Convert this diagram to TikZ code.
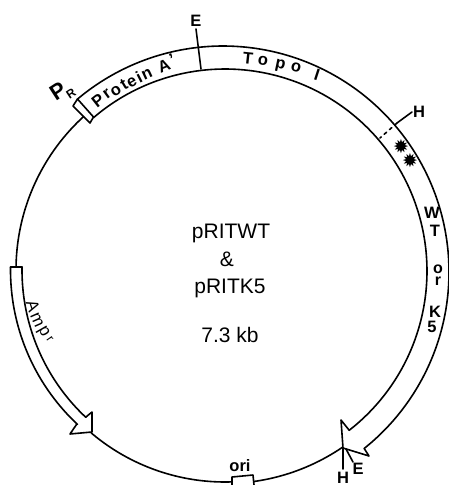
\documentclass[tikz,border=0pt]{standalone}
\usepackage{fontspec}
\setmainfont{Liberation Sans}
\newfontfamily\symfont{DejaVu Sans}
\tikzset{
  ln/.style={draw=black,line width=1.6pt,line cap=round,line join=round},
  lab/.style={inner sep=0pt,font=\fontsize{16.5}{16.5}\selectfont\bfseries},
  lett/.style={inner sep=0pt,font=\fontsize{16.5}{16.5}\selectfont\bfseries},
  amp/.style={inner sep=0pt,font=\fontsize{17}{17}\selectfont},
  mid/.style={inner sep=0pt,font=\fontsize{21}{21}\selectfont},
  star/.style={inner sep=0pt,font=\symfont\fontsize{19}{19}\selectfont}
}
\newcommand{\polarc}[5]{\draw[ln] plot[domain=#4:#5,samples=80,smooth] ({#1+#3*cos(\x)},{#2+#3*sin(\x)});}
\begin{document}
\begin{tikzpicture}[x=1pt,y=-1pt]
\useasboundingbox (0,0) rectangle (449,485);
\fill[white] (0,0) rectangle (449,485);
% backbone
\polarc{224}{270}{208}{180.8}{227.5}
\polarc{225}{275}{207}{88}{130.3}
\polarc{225}{275}{208.5}{55.7}{82}
% ori box
\draw[ln] (232,485) -- (232,477) -- (253,475) -- (254,485);
% PR box
\draw[ln] (77.5,99) -- (73,106) -- (90,123) -- (93.5,117) -- cycle;
% top band
\polarc{223}{272}{226}{229.9}{411.3}
\polarc{225}{271}{202}{229.4}{412.1}
% arrowhead
\coordinate (ahO) at (364.2,448.5);
\coordinate (ahV) at (343,448);
\coordinate (ahI) at (349,430);
\draw[ln] (ahO) -- (369,456) -- (ahV) -- (341,420) -- (ahI);
% E and H ticks at bottom
\draw[ln] (ahV) -- (343,469);
\draw[ln] (346,449) -- (353,462);
% top E tick
\draw[ln] (196,29) -- (201,69);
% H tick
\draw[ln] (397,123) -- (412,112);
\draw[ln,dash pattern=on 3pt off 4pt] (397,123) -- (380,138);
% Amp band
\draw[ln] (10.5,267) -- (22,267);
\polarc{222}{270}{211.5}{133.1}{180.8}
\polarc{224}{270}{202}{133.2}{180.9}
\draw[ln] (76.5,424.5) -- (70,434) -- (92,432) -- (92,412) -- (85.7,417.2);
% labels
\node[lab] (e1) at (196,21) {E};
\node[lab] (h1) at (419,112) {H};
\node[lab] (e2) at (358,469) {E};
\node[lab] (h2) at (343,477.5) {H};
\node[lab] (ori) at (240,466) {ori};
\node[lab] (wt1) at (432,213) {W};
\node[lab] (wt2) at (435,231) {T};
\node[lab,align=center,font=\fontsize{16}{12}\selectfont\bfseries] (or) at (438,275) {o\\r};
\node[lab] (k5a) at (435,312) {K};
\node[lab] (k5b) at (432,327) {5};
\node[inner sep=0pt,rotate=33,font=\fontsize{22}{22}\selectfont\bfseries] (pr) at (58,91) {P};
\node[inner sep=0pt,rotate=33,font=\fontsize{12}{12}\selectfont\bfseries] (prb) at (71,94) {R};
\foreach \c/\x/\y/\r [count=\i] in {P/98/101/38,r/107/94/36,o/116/91/33,t/124/85/31,e/132/82/29,i/139/77/27,n/147/74/25,A/164/66/22,'/172/59/20}
  \node[lett,rotate=\r] (pa\i) at (\x,\y) {\c};
\foreach \c/\x/\y/\r [count=\i] in {T/248/58/-6,o/263/61/-8,p/280/66/-12,o/296/67/-14,I/317/75/-18}
  \node[lett,rotate=\r] (tp\i) at (\x,\y) {\c};
\foreach \c/\x/\y/\r [count=\i] in {A/33/306/-72,m/37/320/-66,p/43/332/-60}
  \node[amp,rotate=\r] (am\i) at (\x,\y) {\c};
\node[inner sep=0pt,rotate=-55,font=\fontsize{12}{12}\selectfont] (am4) at (50,339) {r};
\node[star] (s1) at (401,147) {✹};
\node[star] (s2) at (410,161) {✹};
\node[mid] (m1) at (231,233) {pRITWT};
\node[mid] (m2) at (227,259) {\&};
\node[mid] (m3) at (230,288) {pRITK5};
\node[mid] (m4) at (230,335) {7.3 kb};
\end{tikzpicture}
\end{document}
